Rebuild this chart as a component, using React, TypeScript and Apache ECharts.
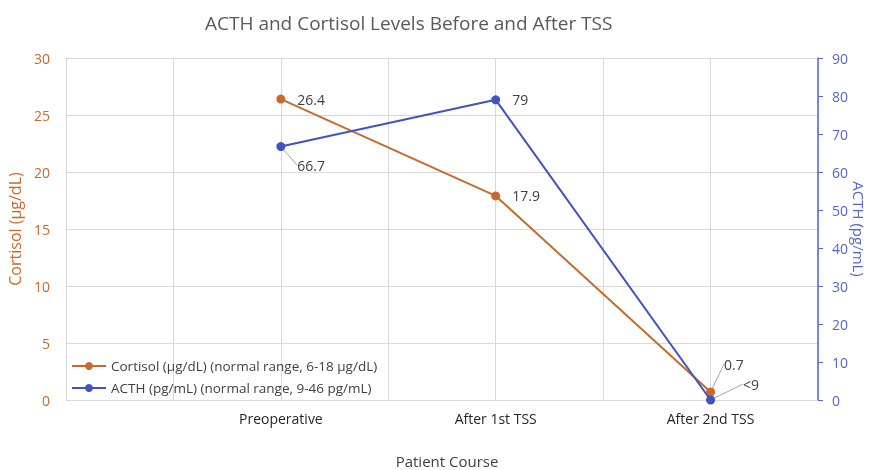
import React, { useEffect, useRef } from "react";
import * as echarts from "echarts";

const categories = ["", "", "Preoperative", "", "After 1st TSS", "", "After 2nd TSS", ""];
const cortisol = [null, null, 26.4, null, 17.9, null, 0.7, null];
const acth = [null, null, 66.7, null, 79, null, 0, null];
const acthLabels = ["", "", "66.7", "", "79", "", "<9", ""];
const cortisolTicks = { min: 0, max: 30, interval: 5 };
const acthTicks = { min: 0, max: 90, interval: 10 };

const ORANGE = "#C96A2C";
const BLUE = "#4452BE";
const BLUE_LABEL = "#5566CC";
const FONT = "'Open Sans', 'Noto Sans', sans-serif";

// label offsets for moved labels (with leader lines)
const cortisolMoved: Record<number, { dx: number; dy: number }> = { 6: { dx: -3, dy: -28 } };
const acthMoved: Record<number, { dx: number; dy: number }> = { 2: { dx: 0, dy: 19 }, 6: { dx: 16, dy: -16 } };

function withLeader(values: (number | null)[], moved: Record<number, any>) {
  return values.map((v, i) =>
    v === null
      ? null
      : { value: v, labelLine: { show: !!moved[i], lineStyle: { color: "#A6A6A6", width: 1 } } }
  );
}

export default function App() {
  const ref = useRef<HTMLDivElement>(null);
  useEffect(() => {
    if (!ref.current) return;
    const chart = echarts.init(ref.current, undefined, { renderer: "svg" });
    chart.setOption({
      animation: false,
      textStyle: { fontFamily: FONT },
      title: {
        text: "ACTH and Cortisol Levels Before and After TSS",
        left: 200,
        top: 8,
        textStyle: { fontFamily: FONT, fontSize: 19, fontWeight: "normal", color: "#595959" },
      },
      legend: {
        orient: "vertical",
        left: 66,
        top: 354,
        itemWidth: 34,
        itemHeight: 10,
        itemGap: 8,
        textStyle: { fontFamily: FONT, fontSize: 13.5, color: "#404040" },
        data: [
          "Cortisol (µg/dL) (normal range, 6-18 µg/dL)",
          "ACTH (pg/mL) (normal range, 9-46 pg/mL)",
        ],
      },
      grid: { left: 66, right: 52, top: 58, bottom: 70, containLabel: false, outerBoundsMode: "none" },
      xAxis: {
        type: "category",
        data: categories,
        boundaryGap: false,
        name: "Patient Course",
        nameLocation: "middle",
        nameGap: 53,
        nameTextStyle: { fontFamily: FONT, fontSize: 15, color: "#404040", padding: [0, 0, 0, 10] },
        axisLine: { show: true, lineStyle: { color: "#D9D9D9" } },
        axisTick: { show: false },
        axisLabel: { fontFamily: FONT, fontSize: 14, color: "#262626", margin: 11, interval: 0 },
        splitLine: { show: true, lineStyle: { color: "#D9D9D9" } },
      },
      yAxis: [
        {
          type: "value",
          ...cortisolTicks,
          name: "Cortisol (µg/dL)",
          nameLocation: "middle",
          nameGap: 35,
          nameTextStyle: { fontFamily: FONT, fontSize: 16, color: ORANGE },
          axisLine: { show: false },
          axisTick: { show: false },
          axisLabel: { fontFamily: FONT, fontSize: 14, color: ORANGE, margin: 16 },
          splitLine: { show: true, lineStyle: { color: "#D9D9D9" } },
        },
        {
          type: "value",
          ...acthTicks,
          position: "right",
          name: "ACTH (pg/mL)",
          nameLocation: "middle",
          nameGap: 33,
          nameMoveOverlap: false,
          nameRotate: -90,
          nameTextStyle: { fontFamily: FONT, fontSize: 15, color: BLUE_LABEL },
          axisLine: { show: true, lineStyle: { color: BLUE_LABEL, width: 1.5 } },
          axisTick: { show: true, length: 5, lineStyle: { color: BLUE_LABEL } },
          axisLabel: { fontFamily: FONT, fontSize: 14, color: BLUE_LABEL, margin: 14 },
          splitLine: { show: false },
        },
      ],
      series: [
        {
          name: "Cortisol (µg/dL) (normal range, 6-18 µg/dL)",
          type: "line",
          yAxisIndex: 0,
          data: withLeader(cortisol, cortisolMoved),
          connectNulls: true,
          symbol: "circle",
          symbolSize: 9,
          itemStyle: { color: ORANGE },
          lineStyle: { color: ORANGE, width: 2 },
          label: {
            show: true,
            position: "right",
            distance: 12,
            fontFamily: FONT,
            fontSize: 14,
            color: "#404040",
          },
          labelLayout: (p: any) => cortisolMoved[p.dataIndex] || {},
          z: 3,
        },
        {
          name: "ACTH (pg/mL) (normal range, 9-46 pg/mL)",
          type: "line",
          yAxisIndex: 1,
          data: withLeader(acth, acthMoved),
          connectNulls: true,
          symbol: "circle",
          symbolSize: 9,
          itemStyle: { color: BLUE },
          lineStyle: { color: BLUE, width: 2 },
          label: {
            show: true,
            position: "right",
            distance: 12,
            fontFamily: FONT,
            fontSize: 14,
            color: "#404040",
            formatter: (p: any) => acthLabels[p.dataIndex],
          },
          labelLayout: (p: any) => acthMoved[p.dataIndex] || {},
          z: 4,
        },
      ],
    });
    return () => chart.dispose();
  }, []);
  return <div ref={ref} style={{ position: "fixed", left: 0, top: 0, width: 870, height: 470 }} />;
}
